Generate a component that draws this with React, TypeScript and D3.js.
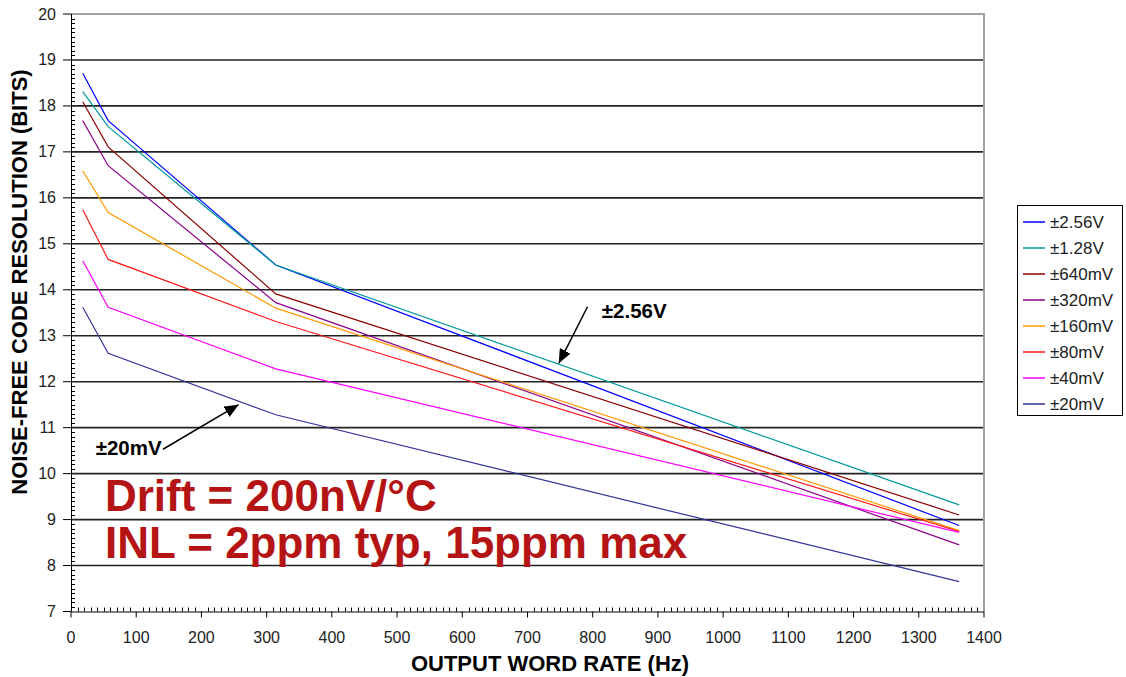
import * as d3 from 'd3'
import * as React from 'react'

// Output word rates (Hz) at which resolution was measured
const rates = [18, 57, 314, 1362]

const ranges = ['±2.56V', '±1.28V', '±640mV', '±320mV', '±160mV', '±80mV', '±40mV', '±20mV']
const colors = ['#0000FF', '#009A9A', '#8B0000', '#8B008B', '#FF9900', '#FF1A1A', '#FF00FF', '#333399']

// Noise-free bits per input range
const bits2560 = [18.71, 17.68, 14.54, 8.87]
const bits1280 = [18.31, 17.55, 14.54, 9.32]
const bits640 = [18.09, 17.11, 13.91, 9.10]
const bits320 = [17.68, 16.70, 13.72, 8.45]
const bits160 = [16.59, 15.68, 13.60, 8.76]
const bits80 = [15.74, 14.66, 13.31, 8.74]
const bits40 = [14.63, 13.62, 12.28, 8.72]
const bits20 = [13.62, 12.62, 11.28, 7.65]
const series = [bits2560, bits1280, bits640, bits320, bits160, bits80, bits40, bits20]

const xTicks = d3.range(0, 1401, 100)
const yTicks = d3.range(7, 21, 1)

const FONT = '"Liberation Sans", Arial, sans-serif'

export default function App() {
  const node = React.useRef<SVGSVGElement>(null)

  React.useEffect(() => {
    const svg = d3.select(node.current!)
    svg.selectAll('*').remove()

    const x = d3.scaleLinear().domain([0, 1400]).range([71, 984])
    const y = d3.scaleLinear().domain([7, 20]).range([611.5, 14])

    // arrowhead
    svg.append('defs').append('marker')
      .attr('id', 'head')
      .attr('markerUnits', 'userSpaceOnUse')
      .attr('markerWidth', 14).attr('markerHeight', 12)
      .attr('refX', 14).attr('refY', 6)
      .attr('orient', 'auto')
      .append('path').attr('d', 'M0,0 L14,6 L0,12 Z').attr('fill', '#000')

    // horizontal gridlines
    svg.append('g').selectAll('line')
      .data(yTicks.filter(d => d > 7 && d < 20))
      .enter().append('line')
      .attr('x1', x(0)).attr('x2', x(1400))
      .attr('y1', d => y(d)).attr('y2', d => y(d))
      .attr('stroke', '#222').attr('stroke-width', 1.6)

    // plot frame (top/right grey)
    svg.append('path')
      .attr('d', `M${x(0)},${y(20)} H${x(1400)} V${y(7)}`)
      .attr('fill', 'none').attr('stroke', '#a0a0a0').attr('stroke-width', 2)

    // series lines
    const line = d3.line<number>()
      .x((d, i) => x(rates[i]))
      .y(d => y(d))
    svg.append('g').selectAll('path')
      .data(series)
      .enter().append('path')
      .attr('d', d => line(d))
      .attr('fill', 'none')
      .attr('stroke', (d, i) => colors[i])
      .attr('stroke-width', 1.2)

    // axes
    const axes = svg.append('g').attr('stroke', '#000').attr('stroke-width', 1)
    axes.append('line').attr('x1', x(0) + 0.5).attr('x2', x(0) + 0.5).attr('y1', y(20)).attr('y2', y(7))
    axes.append('line').attr('x1', x(0)).attr('x2', x(1400)).attr('y1', y(7) + 0.5).attr('y2', y(7) + 0.5)
    // y minor ticks (inside)
    axes.selectAll('.ym').data(d3.range(70, 200, 1).filter(d => d % 10 !== 0))
      .enter().append('line')
      .attr('x1', x(0)).attr('x2', x(0) + 4)
      .attr('y1', d => Math.round(y(d / 10)) + 0.5).attr('y2', d => Math.round(y(d / 10)) + 0.5)
    // y major ticks (outside)
    axes.selectAll('.yM').data(yTicks)
      .enter().append('line')
      .attr('x1', x(0) - 8).attr('x2', x(0))
      .attr('y1', d => y(d)).attr('y2', d => y(d))
    // x minor ticks
    axes.selectAll('.xm').data(d3.range(10, 1400, 10).filter(d => d % 100 !== 0))
      .enter().append('line')
      .attr('x1', d => Math.round(x(d)) + 0.5).attr('x2', d => Math.round(x(d)) + 0.5)
      .attr('y1', y(7) - 4).attr('y2', y(7))
    // x major ticks
    axes.selectAll('.xM').data(xTicks)
      .enter().append('line')
      .attr('x1', d => x(d)).attr('x2', d => x(d))
      .attr('y1', y(7)).attr('y2', y(7) + 6)

    // tick labels
    svg.append('g').selectAll('text')
      .data(yTicks)
      .enter().append('text')
      .attr('x', x(0) - 15).attr('y', d => y(d))
      .attr('text-anchor', 'end').attr('dominant-baseline', 'central')
      .attr('font-family', FONT).attr('font-size', 16).attr('fill', '#222')
      .text(d => d)
    svg.append('g').selectAll('text')
      .data(xTicks)
      .enter().append('text')
      .attr('x', d => x(d)).attr('y', 637)
      .attr('text-anchor', 'middle').attr('dominant-baseline', 'central')
      .attr('font-family', FONT).attr('font-size', 16).attr('fill', '#222')
      .text(d => d)

    // axis titles
    svg.append('text')
      .attr('transform', 'translate(27,282) rotate(-90)')
      .attr('text-anchor', 'middle')
      .attr('font-family', FONT).attr('font-size', 22).attr('font-weight', 'bold')
      .text('NOISE-FREE CODE RESOLUTION (BITS)')
    svg.append('text')
      .attr('x', 550).attr('y', 671)
      .attr('text-anchor', 'middle')
      .attr('font-family', FONT).attr('font-size', 22).attr('font-weight', 'bold')
      .text('OUTPUT WORD RATE (Hz)')

    // annotations
    const ann = svg.append('g').attr('font-family', FONT).attr('font-weight', 'bold')
    ann.append('line')
      .attr('x1', x(792)).attr('y1', y(13.63)).attr('x2', x(748)).attr('y2', y(12.40))
      .attr('stroke', '#000').attr('stroke-width', 1.5).attr('marker-end', 'url(#head)')
    ann.append('text').attr('x', x(814)).attr('y', y(13.39))
      .attr('font-size', 20.5).text('±2.56V')
    ann.append('line')
      .attr('x1', x(141)).attr('y1', y(10.53)).attr('x2', x(257)).attr('y2', y(11.50))
      .attr('stroke', '#000').attr('stroke-width', 1.5).attr('marker-end', 'url(#head)')
    ann.append('text').attr('x', x(139)).attr('y', y(10.41))
      .attr('text-anchor', 'end').attr('font-size', 20.5).text('±20mV')
    ann.append('text').attr('x', x(52)).attr('y', y(9.18))
      .attr('font-size', 44).attr('fill', '#B41414').text('Drift = 200nV/°C')
    ann.append('text').attr('x', x(52)).attr('y', y(8.16))
      .attr('font-size', 44).attr('fill', '#B41414').text('INL = 2ppm typ, 15ppm max')

    // legend
    const lg = svg.append('g').attr('transform', 'translate(1017,205)')
    lg.append('rect').attr('x', 0.5).attr('y', 0.5).attr('width', 105).attr('height', 210)
      .attr('fill', '#fff').attr('stroke', '#000')
    const item = lg.selectAll('g.item').data(ranges)
      .enter().append('g')
      .attr('transform', (d, i) => `translate(0,${17 + i * 26})`)
    item.append('line').attr('x1', 6).attr('x2', 28).attr('y1', 0).attr('y2', 0)
      .attr('stroke', (d, i) => colors[i]).attr('stroke-width', 1.5)
    item.append('text').attr('x', 33).attr('y', 0)
      .attr('dominant-baseline', 'central')
      .attr('font-family', FONT).attr('font-size', 17).attr('fill', '#222')
      .text(d => d)
  }, [])

  return (
    <svg ref={node} width={1126} height={677}
      style={{ position: 'absolute', left: 0, top: 0, background: '#fff' }} />
  )
}
